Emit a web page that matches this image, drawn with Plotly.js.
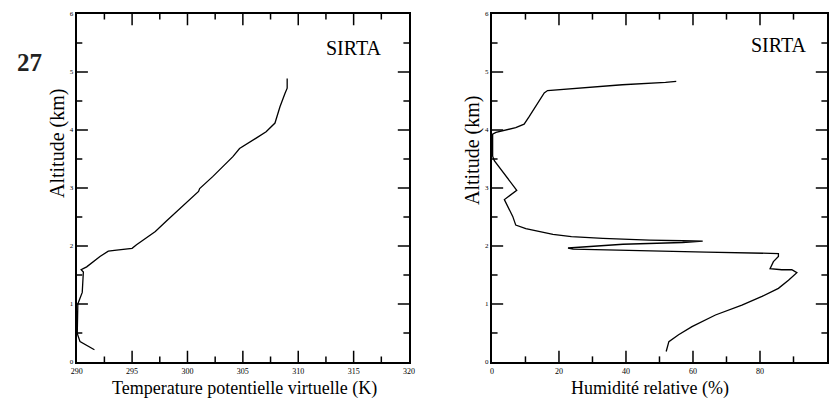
<!DOCTYPE html>
<html>
<head>
<meta charset="utf-8">
<script src="https://cdn.plot.ly/plotly-3.0.1.min.js"></script>
<style>
  html, body { margin: 0; padding: 0; background: #fff; }
  #chart { width: 832px; height: 398px; }
</style>
</head>
<body>
<div id="chart"></div>
<script>
// Virtual potential temperature profile (K) vs altitude (km)
const thetaAlt = [0.21, 0.35, 0.49, 1.00, 1.20, 1.55, 1.59, 1.64, 1.82, 1.91, 1.93, 1.96, 2.02, 2.13, 2.25, 2.43, 2.62, 2.79, 2.94, 2.99, 3.20, 3.54, 3.68, 3.86, 3.97, 4.12, 4.40, 4.63, 4.72, 4.89];
const thetaV   = [291.6, 290.3, 290.05, 290.1, 290.5, 290.6, 290.4, 290.9, 292.1, 292.85, 293.6, 295.0, 295.4, 296.2, 297.1, 298.1, 299.2, 300.2, 301.0, 301.1, 302.3, 304.1, 304.7, 306.2, 307.1, 307.9, 308.35, 308.8, 309.0, 309.0];

// Relative humidity profile (%) vs altitude (km)
const rhAlt = [0.18, 0.35, 0.47, 0.61, 0.81, 0.98, 1.13, 1.27, 1.41, 1.54, 1.59, 1.59, 1.61, 1.73, 1.82, 1.87, 1.895, 1.92, 1.945, 1.965, 1.99, 2.03, 2.06, 2.085, 2.09, 2.10, 2.13, 2.16, 2.20, 2.25, 2.30, 2.36, 2.51, 2.80, 2.96, 3.47, 3.55, 3.93, 3.96, 4.04, 4.10, 4.23, 4.64, 4.68, 4.70, 4.72, 4.78, 4.82, 4.84];
const rh    = [52.0, 52.8, 55.7, 59.7, 66.7, 74.6, 80.6, 85.5, 88.5, 91.0, 89.5, 86.5, 83.0, 84.0, 85.5, 85.5, 64.0, 39.0, 24.2, 22.7, 30.2, 39.1, 56.9, 62.9, 57.0, 47.0, 33.1, 23.7, 18.2, 14.3, 10.1, 7.1, 6.2, 3.7, 7.4, 0.7, 0.2, 0.2, 1.2, 7.1, 9.6, 11.1, 15.6, 16.6, 21.0, 27.0, 38.9, 51.8, 55.0];

// Axis ranges and tick spacing
const thetaRange = [290, 320];
const rhRange = [0, 100];
const altRange = [0, 6];
const thetaStep = [5, 2.5];
const rhStep = [20, 10];
const altStep = [1, 0.5];

const serif = '"Liberation Serif", "Times New Roman", serif';
const xDomL = [0.0922, 0.4916];
const xDomR = [0.5913, 0.994];
const yDom = [0.0905, 0.9648];

// Tick positions inside a range (ends excluded: they sit on the frame corners)
function tickValues(range, step, skipStep) {
  const out = [];
  for (let v = range[0] + step; v < range[1] - 1e-9; v += step) {
    if (skipStep && Math.abs(v / skipStep - Math.round(v / skipStep)) < 1e-6) continue;
    out.push(+v.toFixed(4));
  }
  return out;
}

// Framed main axis: thick border on all four sides, labels outside
function frameAxis(extra) {
  return Object.assign({
    showline: true, linecolor: '#000', linewidth: 2, mirror: true,
    ticks: '', tickmode: 'linear', showgrid: false, zeroline: false,
    tickfont: { family: serif, size: 8, color: '#000' }, fixedrange: true
  }, extra);
}

// Inward tick marks drawn on all four edges of a panel (half of each marker is clipped by the frame)
function edgeTicks(xa, ya, xRange, yRange, xStep, yStep) {
  const out = [];
  const specs = [
    [tickValues(xRange, xStep[0]), 16], [tickValues(xRange, xStep[1], xStep[0]), 8]
  ];
  specs.forEach(([vals, size]) => {
    [yRange[0], yRange[1]].forEach(edge => out.push({
      x: vals, y: vals.map(() => edge), xaxis: xa, yaxis: ya, mode: 'markers', hoverinfo: 'skip',
      marker: { symbol: 'line-ns', size: size, line: { color: '#000', width: 1.5 } }
    }));
  });
  const yspecs = [
    [tickValues(yRange, yStep[0]), 16], [tickValues(yRange, yStep[1], yStep[0]), 8]
  ];
  yspecs.forEach(([vals, size]) => {
    [xRange[0], xRange[1]].forEach(edge => out.push({
      x: vals.map(() => edge), y: vals, xaxis: xa, yaxis: ya, mode: 'markers', hoverinfo: 'skip',
      marker: { symbol: 'line-ew', size: size, line: { color: '#000', width: 1.5 } }
    }));
  });
  return out;
}

const traces = [
  { x: thetaV, y: thetaAlt, xaxis: 'x', yaxis: 'y', mode: 'lines',
    line: { color: '#000', width: 1.3 }, hoverinfo: 'skip' },
  { x: rh, y: rhAlt, xaxis: 'x2', yaxis: 'y2', mode: 'lines',
    line: { color: '#000', width: 1.3 }, hoverinfo: 'skip' }
].concat(
  edgeTicks('x', 'y', thetaRange, altRange, thetaStep, altStep),
  edgeTicks('x2', 'y2', rhRange, altRange, rhStep, altStep)
);

const layout = {
  width: 832, height: 398,
  margin: { l: 0, r: 0, t: 0, b: 0 },
  paper_bgcolor: '#fff', plot_bgcolor: '#fff',
  showlegend: false,
  hovermode: false,
  xaxis: frameAxis({ domain: xDomL, range: thetaRange, tick0: thetaRange[0], dtick: thetaStep[0], anchor: 'y' }),
  yaxis: frameAxis({ domain: yDom, range: altRange, tick0: 0, dtick: altStep[0], anchor: 'x',
    tickfont: { family: serif, size: 7, color: '#000' } }),
  xaxis2: frameAxis({ domain: xDomR, range: rhRange, tick0: 0, dtick: rhStep[0], anchor: 'y2' }),
  yaxis2: frameAxis({ domain: yDom, range: altRange, tick0: 0, dtick: altStep[0], anchor: 'x2',
    tickfont: { family: serif, size: 7, color: '#000' } }),

  annotations: [
    { text: '<b>27</b>', x: 30 / 832, y: 1 - 63 / 398, xref: 'paper', yref: 'paper',
      showarrow: false, font: { family: serif, size: 25, color: '#222' }, xanchor: 'center', yanchor: 'middle' },
    { text: 'SIRTA', x: 354 / 832, y: 1 - 48 / 398, xref: 'paper', yref: 'paper',
      showarrow: false, font: { family: serif, size: 20, color: '#000' }, xanchor: 'center', yanchor: 'middle' },
    { text: 'SIRTA', x: 779 / 832, y: 1 - 45 / 398, xref: 'paper', yref: 'paper',
      showarrow: false, font: { family: serif, size: 20, color: '#000' }, xanchor: 'center', yanchor: 'middle' },
    { text: 'Altitude (km)', x: 57 / 832, y: 1 - 144 / 398, xref: 'paper', yref: 'paper', textangle: -90,
      showarrow: false, font: { family: serif, size: 20, color: '#000' }, xanchor: 'center', yanchor: 'middle' },
    { text: 'Altitude (km)', x: 473 / 832, y: 1 - 151 / 398, xref: 'paper', yref: 'paper', textangle: -90,
      showarrow: false, font: { family: serif, size: 20, color: '#000' }, xanchor: 'center', yanchor: 'middle' },
    { text: 'Temperature potentielle virtuelle (K)', x: 244 / 832, y: 1 - 388 / 398, xref: 'paper', yref: 'paper',
      showarrow: false, font: { family: serif, size: 18, color: '#000' }, xanchor: 'center', yanchor: 'middle' },
    { text: 'Humidité relative (%)', x: 650 / 832, y: 1 - 388 / 398, xref: 'paper', yref: 'paper',
      showarrow: false, font: { family: serif, size: 18, color: '#000' }, xanchor: 'center', yanchor: 'middle' }
  ]
};

Plotly.newPlot('chart', traces, layout, { displayModeBar: false, scrollZoom: false });
</script>
</body>
</html>
